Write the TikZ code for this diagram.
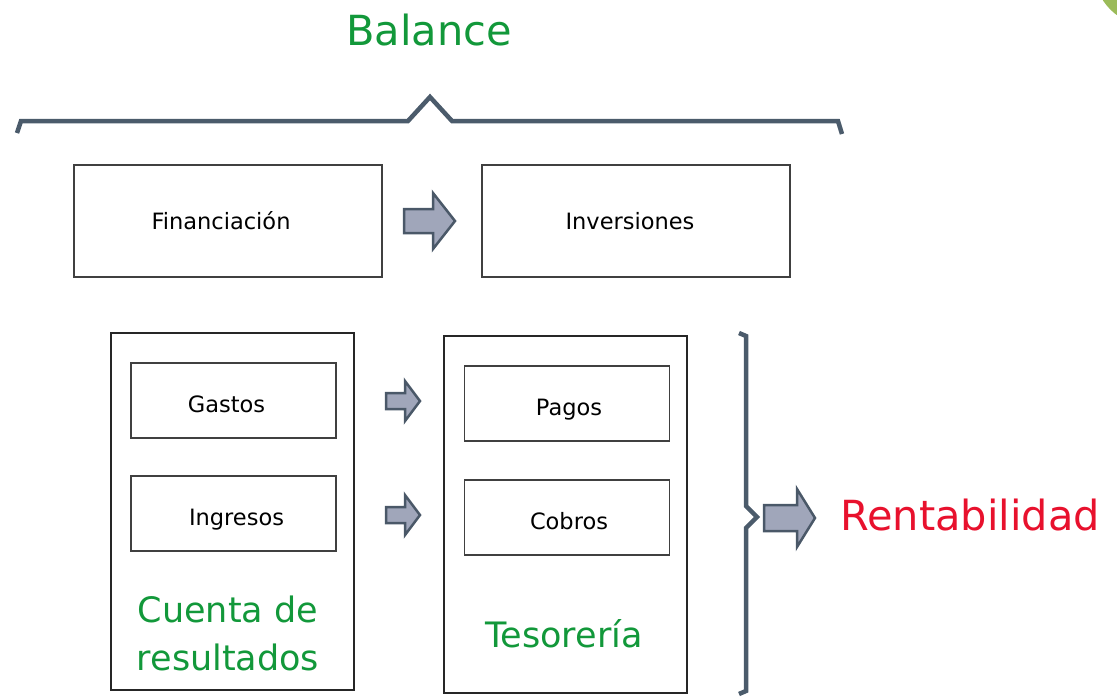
\documentclass[tikz,border=0pt]{standalone}
\usepackage{fontspec}
\setmainfont{DejaVu Sans}
\definecolor{brgreen}{HTML}{12983A}
\definecolor{brred}{HTML}{E8112D}
\definecolor{bracecol}{HTML}{4B5B6B}
\definecolor{arrfill}{HTML}{A0A6BA}
\definecolor{arredge}{HTML}{4A5868}
\definecolor{olive}{HTML}{9BBB59}
\newcommand\blockarr[6]{% x1 x2 xhead yc bodyhalf headhalf
  \draw[arrowshape] (#1,#4-#5) -- (#3,#4-#5) -- (#3,#4-#6) -- (#2,#4) -- (#3,#4+#6) -- (#3,#4+#5) -- (#1,#4+#5) -- cycle;}
\begin{document}
\begin{tikzpicture}[x=1pt,y=-1pt,
  box/.style={draw=black!75,line width=1.2pt,minimum width=308pt,minimum height=112pt,inner sep=0pt,font=\fontsize{22.5}{26}\selectfont},
  inbox/.style={draw=black!75,line width=1.2pt,minimum width=205pt,minimum height=75pt,inner sep=0pt,text height=23pt,text depth=0pt,font=\fontsize{22.5}{26}\selectfont},
  bigbox/.style={draw=black!85,line width=1.2pt,minimum width=243pt,minimum height=357pt,inner sep=0pt},
  bigtxt/.style={font=\fontsize{35}{48}\selectfont,align=center,inner sep=0pt},
  arrowshape/.style={fill=arrfill,draw=arredge,line width=2.5pt,line join=miter},
  bracestyle/.style={draw=bracecol,line width=4.5pt,line join=miter}]
\useasboundingbox (0,0) rectangle (1117,697);
\begin{scope}
\clip (0,0) rectangle (1117,697);
\fill[olive] (1150,-30) circle (56);
\end{scope}
% title
\node[font=\fontsize{41.5}{48}\selectfont,text=brgreen] (balance) at (429,30) {Balance};
\draw[bracestyle] (17,133) -- (21,121) -- (408,121) -- (430,97) -- (452,121) -- (838,121) -- (842,134);
% top boxes
\node[box] (fin) at (228,221) {Financiación\hspace*{14pt}};
\node[box] (inv) at (636,221) {Inversiones\hspace*{12pt}};
\blockarr{404}{455}{433}{221}{12}{28}
% big boxes
\node[bigbox] (cuenta) at (232.5,511.5) {};
\node[bigbox] (teso) at (565.5,514.5) {};
\node[inbox] (gastos) at (233.5,400.5) {Gastos\hspace*{14pt}};
\node[inbox] (ingresos) at (233.5,513.5) {\hspace*{6pt}Ingresos};
\node[inbox] (pagos) at (567,403.5) {\hspace*{4pt}Pagos};
\node[inbox] (cobros) at (567,517.5) {\hspace*{4pt}Cobros};
\node[bigtxt,text=brgreen] (cuentatxt) at (228,633) {Cuenta de\\resultados};
\node[bigtxt,text=brgreen] (tesotxt) at (564,634) {Tesorería};
\blockarr{386}{420}{405}{401}{8}{20}
\blockarr{386}{420}{405}{515}{8}{20}
% right brace
\draw[bracestyle] (739,333) -- (746,336) -- (746,506) -- (757,517) -- (746,528) -- (746,691) -- (739,694);
\blockarr{764}{815}{797}{518}{13}{29}
\node[font=\fontsize{41.5}{48}\selectfont,text=brred,anchor=west,inner sep=0pt] (rent) at (840,515) {Rentabilidad};
\end{tikzpicture}
\end{document}
